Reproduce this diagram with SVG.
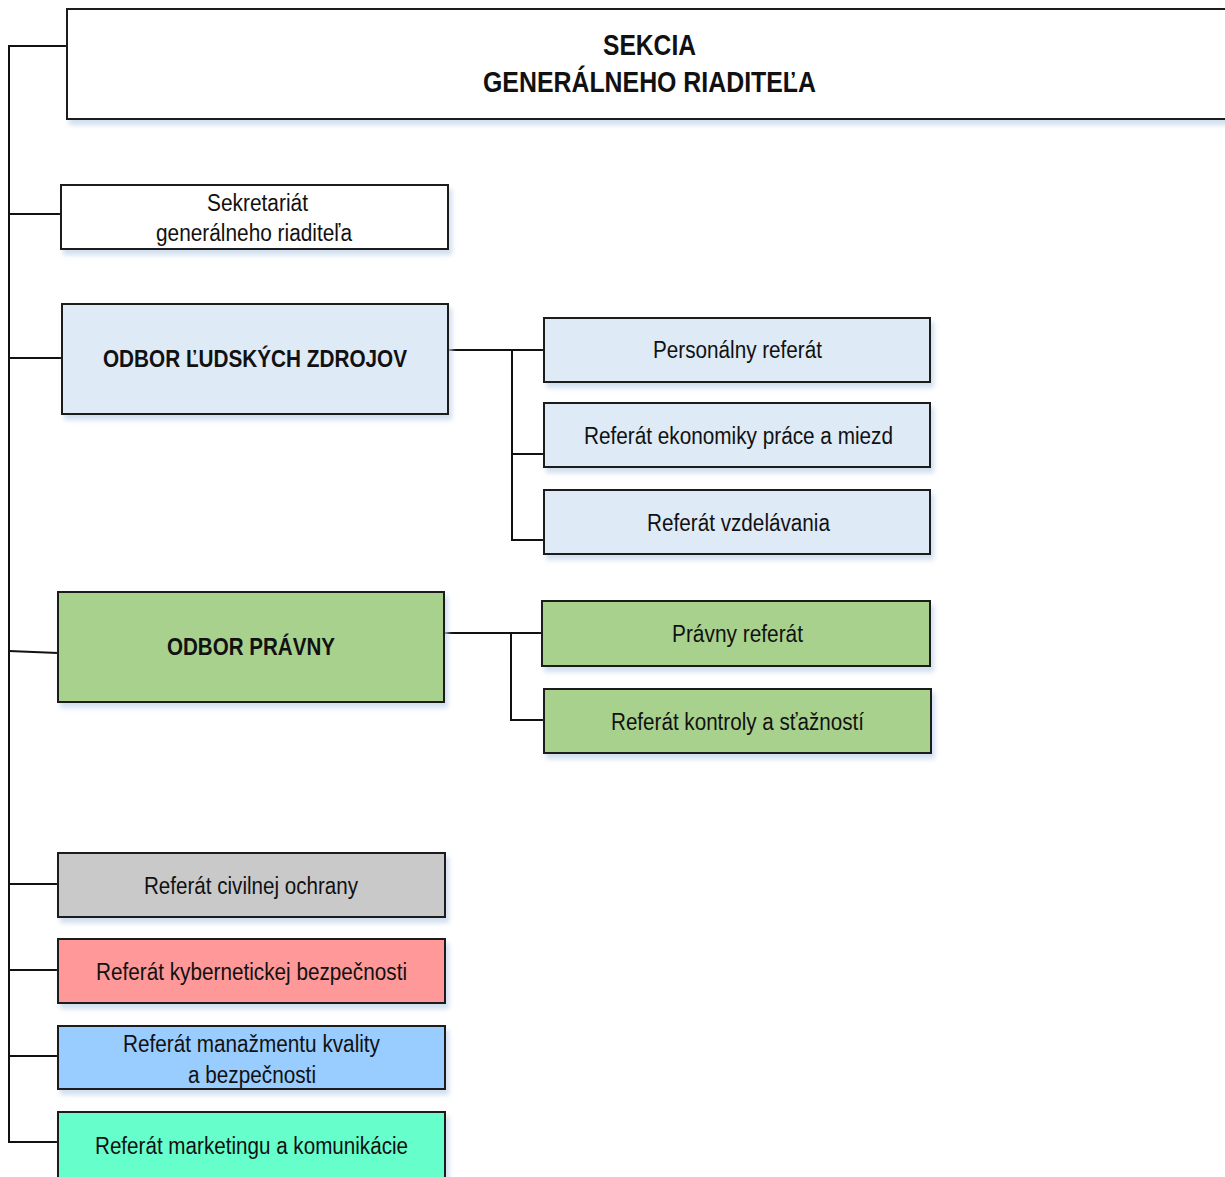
<svg xmlns="http://www.w3.org/2000/svg" width="1225" height="1177" viewBox="0 0 1225 1177">
<defs>
<filter id="sh" x="-5%" y="-10%" width="115%" height="140%">
<feDropShadow dx="3" dy="5" stdDeviation="2.5" flood-color="#c5d6ea" flood-opacity="0.8"/>
</filter>
<style>
.box{stroke:#1a1a1a;stroke-width:2;filter:url(#sh)}
.t{font-family:"Liberation Sans",Arial,sans-serif;font-size:23px;fill:#111;text-anchor:middle}
.b{font-weight:bold}
.h{font-size:29px}
.c{fill:none;stroke:#111;stroke-width:2}
</style>
</defs>
<rect width="1225" height="1177" fill="#fff"/>
<g id="connectors">
<path class="c" d="M67 46H9V1142H58"/>
<path class="c" d="M9 214H61M9 358H62M9 651L58 653M9 884H58M9 970H58M9 1056H58"/>
<path class="c" d="M448 350H544M512 350V540H544M512 454H544"/>
<path class="c" d="M444 633H542M511 633V720H544"/>
</g>
<g id="n-sekcia">
<rect class="box" x="67" y="9" width="1170" height="110" fill="#fff"/>
<text class="t b h" x="649.5" y="55" textLength="93" lengthAdjust="spacingAndGlyphs">SEKCIA</text>
<text class="t b h" x="649.5" y="92" textLength="333" lengthAdjust="spacingAndGlyphs">GENERÁLNEHO RIADITEĽA</text>
</g>
<g id="n-sekretariat">
<rect class="box" x="61" y="185" width="387" height="64" fill="#fff"/>
<text class="t" x="257.5" y="211" textLength="101" lengthAdjust="spacingAndGlyphs">Sekretariát</text>
<text class="t" x="254" y="241" textLength="196" lengthAdjust="spacingAndGlyphs">generálneho riaditeľa</text>
</g>
<g id="n-odbor-lz">
<rect class="box" x="62" y="304" width="386" height="110" fill="#deeaf6"/>
<text class="t b" x="255" y="367" textLength="304" lengthAdjust="spacingAndGlyphs">ODBOR ĽUDSKÝCH ZDROJOV</text>
</g>
<g id="n-personalny">
<rect class="box" x="544" y="318" width="386" height="64" fill="#deeaf6"/>
<text class="t" x="737.5" y="358" textLength="169" lengthAdjust="spacingAndGlyphs">Personálny referát</text>
</g>
<g id="n-ekonomiky">
<rect class="box" x="544" y="403" width="386" height="64" fill="#deeaf6"/>
<text class="t" x="738.5" y="444" textLength="309" lengthAdjust="spacingAndGlyphs">Referát ekonomiky práce a miezd</text>
</g>
<g id="n-vzdelavania">
<rect class="box" x="544" y="490" width="386" height="64" fill="#deeaf6"/>
<text class="t" x="738.5" y="531" textLength="183" lengthAdjust="spacingAndGlyphs">Referát vzdelávania</text>
</g>
<g id="n-odbor-pravny">
<rect class="box" x="58" y="592" width="386" height="110" fill="#a9d18e"/>
<text class="t b" x="251" y="655" textLength="168" lengthAdjust="spacingAndGlyphs">ODBOR PRÁVNY</text>
</g>
<g id="n-pravny">
<rect class="box" x="542" y="601" width="388" height="65" fill="#a9d18e"/>
<text class="t" x="737.5" y="642" textLength="131" lengthAdjust="spacingAndGlyphs">Právny referát</text>
</g>
<g id="n-kontroly">
<rect class="box" x="544" y="689" width="387" height="64" fill="#a9d18e"/>
<text class="t" x="737.5" y="730" textLength="253" lengthAdjust="spacingAndGlyphs">Referát kontroly a sťažností</text>
</g>
<g id="n-civilnej">
<rect class="box" x="58" y="853" width="387" height="64" fill="#c9c9c9"/>
<text class="t" x="251" y="894" textLength="214" lengthAdjust="spacingAndGlyphs">Referát civilnej ochrany</text>
</g>
<g id="n-kyber">
<rect class="box" x="58" y="939" width="387" height="64" fill="#ff9999"/>
<text class="t" x="251.5" y="980" textLength="311" lengthAdjust="spacingAndGlyphs">Referát kybernetickej bezpečnosti</text>
</g>
<g id="n-manazment">
<rect class="box" x="58" y="1026" width="387" height="63" fill="#99ccff"/>
<text class="t" x="251.5" y="1052" textLength="257" lengthAdjust="spacingAndGlyphs">Referát manažmentu kvality</text>
<text class="t" x="252" y="1083" textLength="128" lengthAdjust="spacingAndGlyphs">a bezpečnosti</text>
</g>
<g id="n-marketing">
<rect class="box" x="58" y="1112" width="387" height="70" fill="#66ffcc"/>
<text class="t" x="251.5" y="1154" textLength="313" lengthAdjust="spacingAndGlyphs">Referát marketingu a komunikácie</text>
</g>
</svg>
